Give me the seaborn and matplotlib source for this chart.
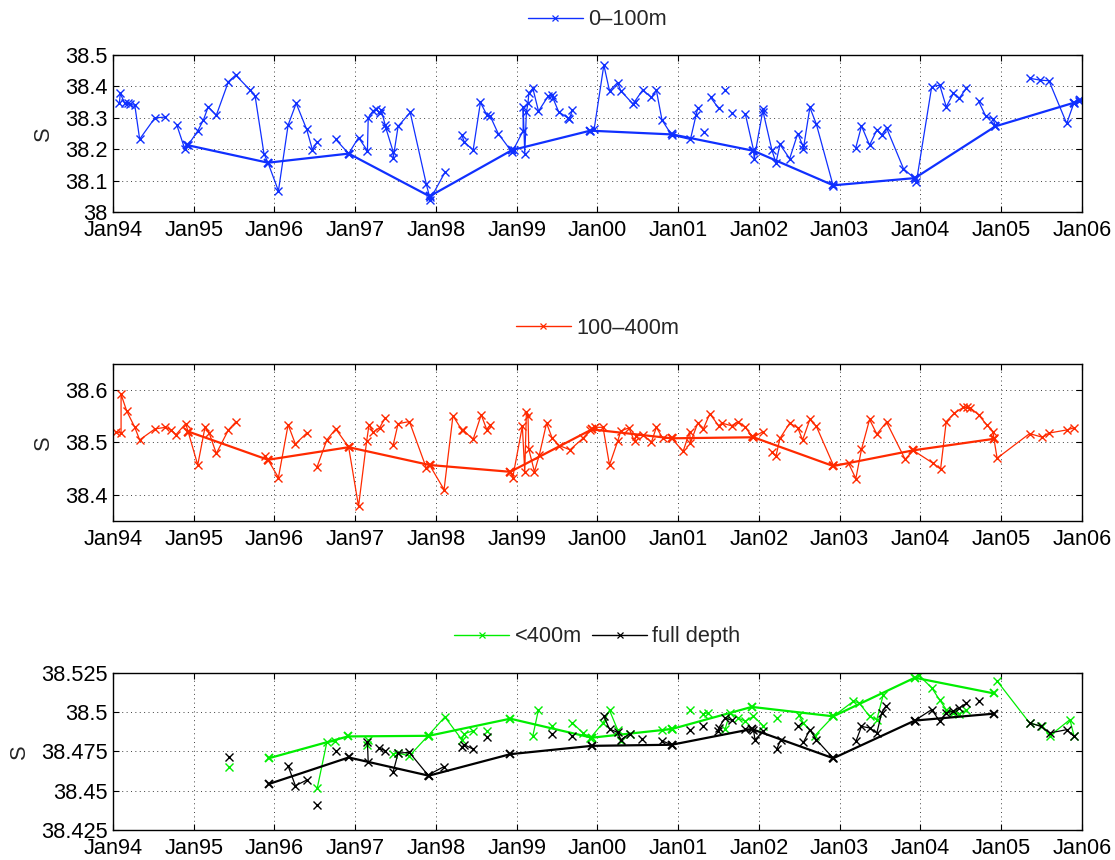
import numpy as np
import pandas as pd
import matplotlib
matplotlib.use("Agg")
import matplotlib.pyplot as plt
import matplotlib.dates as mdates
from matplotlib.lines import Line2D
from matplotlib.ticker import FuncFormatter, MultipleLocator
import seaborn as sns

nan = np.nan

# ---------------- data (decimal years, salinity) ----------------
blue_year = [1994.08, 1994.09, 1994.145, 1994.19, 1994.21, 1994.27, 1994.33, 1994.52, 1994.64, nan,
             1994.79, 1994.89, 1994.93, 1995.05, 1995.12, 1995.18, 1995.28, 1995.43, 1995.52, 1995.70,
             1995.76, 1995.87, 1995.92, 1996.05, 1996.17, 1996.27, 1996.40, 1996.47, 1996.53, nan,
             1996.76, 1996.92, 1997.04, 1997.15, 1997.16, 1997.22, 1997.26, 1997.30, 1997.32, 1997.37,
             1997.38, 1997.47, 1997.47, 1997.53, 1997.68, 1997.88, 1997.92, 1997.92, 1998.11, nan,
             1998.32, 1998.35, 1998.46, 1998.55, 1998.63, 1998.67, 1998.77, 1998.94, 1998.96, 1999.08,
             1999.08, 1999.10, 1999.12, 1999.14, 1999.15, 1999.20, 1999.27, 1999.39, 1999.44, 1999.45,
             1999.52, 1999.63, 1999.65, 1999.69, nan,
             1999.91, 1999.96, 2000.08, 2000.15, 2000.25, 2000.29, 2000.44, 2000.46, 2000.56, 2000.67,
             2000.73, 2000.80, 2000.92, 2001.15, 2001.22, 2001.24, nan, 2001.32, nan, 2001.40, 2001.50, nan,
             2001.58, nan, 2001.66, nan,
             2001.83, 2001.93, 2001.94, 2002.05, 2002.05, 2002.16, 2002.21, 2002.26, 2002.38, 2002.48,
             2002.54, 2002.55, 2002.63, 2002.71, 2002.92, nan,
             2003.20, 2003.27, 2003.37, 2003.46, 2003.52, 2003.58, 2003.79, 2003.93, 2003.95, 2004.14,
             2004.24, 2004.32, 2004.41, 2004.48, 2004.57, nan,
             2004.72, 2004.81, 2004.90, 2004.93, nan,
             2005.35, 2005.48, 2005.59, 2005.81, 2005.90, 2005.96]
blue_S = [38.348, 38.378, 38.346, 38.348, 38.343, 38.340, 38.232, 38.300, 38.302, nan,
          38.277, 38.200, 38.213, 38.258, 38.293, 38.335, 38.308, 38.415, 38.436, 38.388,
          38.370, 38.186, 38.157, 38.067, 38.277, 38.346, 38.263, 38.199, 38.223, nan,
          38.231, 38.186, 38.237, 38.195, 38.300, 38.322, 38.328, 38.314, 38.326, 38.277,
          38.266, 38.191, 38.173, 38.273, 38.317, 38.088, 38.048, 38.037, 38.126, nan,
          38.245, 38.223, 38.197, 38.349, 38.309, 38.306, 38.250, 38.191, 38.199, 38.259,
          38.335, 38.186, 38.319, 38.346, 38.378, 38.394, 38.321, 38.369, 38.372, 38.362,
          38.319, 38.300, 38.296, 38.324, nan,
          38.259, 38.265, 38.468, 38.386, 38.412, 38.386, 38.344, 38.351, 38.388, 38.365,
          38.388, 38.293, 38.245, 38.231, 38.309, 38.330, nan, 38.255, nan, 38.365, 38.330, nan,
          38.390, nan, 38.316, nan,
          38.312, 38.199, 38.170, 38.327, 38.320, 38.197, 38.157, 38.215, 38.170, 38.250,
          38.213, 38.202, 38.333, 38.280, 38.082, nan,
          38.205, 38.274, 38.213, 38.261, 38.245, 38.268, 38.138, 38.106, 38.096, 38.399,
          38.404, 38.335, 38.378, 38.362, 38.394, nan,
          38.353, 38.305, 38.296, 38.273, nan,
          38.426, 38.420, 38.418, 38.282, 38.348, 38.354]
blue_ann_year = [1994.92, 1995.92, 1996.92, 1997.92, 1998.94, 1999.91, 2000.93, 2001.93, 2002.92,
                 2003.93, 2004.93, 2005.90, 2005.98]
blue_ann_S = [38.213, 38.157, 38.186, 38.050, 38.197, 38.259, 38.247, 38.195, 38.085,
              38.108, 38.273, 38.348, 38.356]

red_year = [1994.04, 1994.10, 1994.10, 1994.17, 1994.27, 1994.33, 1994.52, 1994.65, 1994.72, 1994.78,
            1994.90, 1994.93, 1995.05, 1995.14, 1995.19, 1995.28, 1995.43, 1995.52, nan,
            1995.88, 1995.92, 1996.05, 1996.17, 1996.26, 1996.40, nan,
            1996.53, 1996.65, 1996.76, 1996.92, 1997.04, 1997.14, 1997.17, 1997.22, 1997.30, 1997.37, nan,
            1997.47, 1997.53, 1997.67, 1997.88, 1997.92, 1998.10, 1998.21, 1998.32, 1998.34, 1998.46,
            1998.56, 1998.63, 1998.67, nan,
            1998.92, 1998.95, 1999.07, 1999.10, 1999.12, 1999.14, 1999.15, 1999.22, 1999.28, 1999.37,
            1999.44, 1999.53, 1999.66, 1999.82, 1999.91, 1999.97, 2000.07, 2000.15, 2000.25, 2000.29,
            2000.39, 2000.46, 2000.48, 2000.56, 2000.67, 2000.73, 2000.81, 2000.92, 2001.06, 2001.14,
            2001.15, 2001.24, 2001.31, 2001.39, 2001.50, 2001.54, 2001.66, 2001.74, 2001.83, 2001.91,
            2001.93, 2002.05, nan,
            2002.16, 2002.21, 2002.26, 2002.38, 2002.48, 2002.54, 2002.63, 2002.71, 2002.92, 2003.11,
            2003.20, 2003.27, 2003.37, 2003.46, 2003.58, 2003.81, 2003.91, 2004.16, 2004.25, 2004.32,
            2004.42, 2004.53, 2004.58, 2004.62, 2004.72, 2004.82, 2004.90, 2004.91, 2004.95, 2005.35,
            2005.51, 2005.59, 2005.81, 2005.90]
red_S = [38.520, 38.518, 38.592, 38.560, 38.529, 38.505, 38.526, 38.529, 38.524, 38.515,
         38.536, 38.521, 38.457, 38.529, 38.519, 38.479, 38.524, 38.539, nan,
         38.474, 38.467, 38.433, 38.534, 38.497, 38.518, nan,
         38.454, 38.505, 38.526, 38.491, 38.378, 38.502, 38.534, 38.520, 38.528, 38.547, nan,
         38.496, 38.536, 38.540, 38.451, 38.457, 38.410, 38.551, 38.524, 38.523, 38.506,
         38.553, 38.524, 38.534, nan,
         38.444, 38.433, 38.531, 38.444, 38.558, 38.550, 38.487, 38.444, 38.476, 38.537,
         38.508, 38.494, 38.486, 38.508, 38.524, 38.529, 38.529, 38.457, 38.502, 38.522,
         38.528, 38.502, 38.512, 38.515, 38.501, 38.529, 38.508, 38.508, 38.483, 38.521,
         38.499, 38.537, 38.526, 38.555, 38.532, 38.537, 38.532, 38.540, 38.529, 38.512,
         38.510, 38.521, nan,
         38.481, 38.474, 38.508, 38.537, 38.528, 38.505, 38.544, 38.531, 38.457, 38.460,
         38.431, 38.487, 38.544, 38.516, 38.539, 38.468, 38.485, 38.460, 38.449, 38.540,
         38.556, 38.567, 38.567, 38.566, 38.553, 38.534, 38.521, 38.508, 38.470, 38.517,
         38.510, 38.518, 38.524, 38.528]
red_ann_year = [1994.93, 1995.92, 1996.92, 1997.92, 1998.92, 1999.93, 2000.92, 2001.93, 2002.92,
                2003.91, 2004.91]
red_ann_S = [38.521, 38.467, 38.491, 38.457, 38.444, 38.525, 38.508, 38.510, 38.455, 38.485, 38.507]

green_year = [1995.44, nan, 1996.53, 1996.65, 1996.75, nan, 1997.15, 1997.16, nan,
              1997.47, 1997.53, 1997.67, 1997.90, 1998.11, 1998.32, 1998.35, 1998.46, nan,
              1998.63, nan, 1999.20, 1999.27, nan, 1999.44, nan,
              1999.69, 1999.82, 1999.91, 2000.07, 2000.15, 2000.25, 2000.29, 2000.40, nan,
              2000.80, 2000.92, nan, 2001.14, nan, 2001.31, 2001.37, nan,
              2001.58, 2001.64, 2001.74, 2001.83, 2001.93, 2002.05, nan, 2002.22, nan,
              2002.49, 2002.55, 2002.69, 2002.92, 2003.17, 2003.24, 2003.37, 2003.46, 2003.54, nan,
              2003.98, 2004.14, 2004.24, 2004.32, 2004.41, 2004.48, 2004.57, nan,
              2004.95, 2005.35, 2005.51, 2005.60, 2005.85, 2005.90]
green_S = [38.465, nan, 38.4515, 38.481, 38.4814, nan, 38.4793, 38.4825, nan,
           38.4735, 38.474, 38.4722, 38.485, 38.497, 38.4825, 38.4863, 38.4882, nan,
           38.4878, nan, 38.485, 38.5017, nan, 38.491, nan,
           38.4932, 38.4868, 38.4835, 38.4932, 38.5013, 38.4889, 38.482, 38.4863, nan,
           38.4889, 38.4893, nan, 38.5017, nan, 38.4991, 38.4996, nan,
           38.4893, 38.4996, 38.4964, 38.4942, 38.4974, 38.4915, nan, 38.4964, nan,
           38.4985, 38.4932, 38.485, 38.4974, 38.507, 38.506, 38.4974, 38.4953, 38.5113, nan,
           38.5235, 38.5156, 38.5077, 38.5017, 38.4996, 38.4991, 38.5013, nan,
           38.5199, 38.4932, 38.491, 38.485, 38.4953, 38.485]
green_ann_year = [1995.93, 1996.91, 1997.91, 1998.92, 1999.93, 2000.92, 2001.91, 2002.92, 2003.93, 2004.91]
green_ann_S = [38.4707, 38.4846, 38.485, 38.4959, 38.4838, 38.4893, 38.5034, 38.4974, 38.522, 38.512]

black_year = [1995.44, nan, 1996.17, 1996.26, 1996.40, nan, 1996.53, nan, 1996.76, nan,
              1997.15, 1997.16, nan, 1997.29, 1997.37, nan,
              1997.47, 1997.53, 1997.67, 1997.90, 1998.10, nan, 1998.32, 1998.35, 1998.46, nan,
              1998.63, nan, 1999.44, nan, 1999.69, nan,
              2000.08, 2000.15, 2000.25, 2000.29, 2000.40, nan, 2000.55, nan, 2000.80, 2000.92, nan,
              2001.14, nan, 2001.31, nan, 2001.49, 2001.50, 2001.58, 2001.66, nan,
              2001.83, 2001.93, 2001.95, 2002.05, nan, 2002.22, 2002.27, nan, 2002.48, nan,
              2002.55, 2002.63, 2002.71, 2002.92, nan,
              2003.20, 2003.27, 2003.37, 2003.46, 2003.52, 2003.57, nan,
              2003.93, 2004.14, 2004.24, 2004.32, 2004.40, 2004.48, 2004.57, nan, 2004.72, nan,
              2005.35, 2005.49, 2005.60, 2005.81, 2005.90]
black_S = [38.4714, nan, 38.4658, 38.4532, 38.4568, nan, 38.4408, nan, 38.475, nan,
           38.4808, 38.468, nan, 38.4771, 38.4756, nan,
           38.4622, 38.474, 38.4744, 38.460, 38.4654, nan, 38.4778, 38.4793, 38.4765, nan,
           38.484, nan, 38.4863, nan, 38.485, nan,
           38.4974, 38.4893, 38.4872, 38.4825, 38.4863, nan, 38.4831, nan, 38.4818, 38.4793, nan,
           38.4889, nan, 38.491, nan, 38.4882, 38.490, 38.4964, 38.4949, nan,
           38.4893, 38.489, 38.4825, 38.4878, nan, 38.4765, 38.4825, nan, 38.4915, nan,
           38.4808, 38.4889, 38.4825, 38.4707, nan,
           38.4814, 38.491, 38.490, 38.4868, 38.4996, 38.5038, nan,
           38.4947, 38.5017, 38.4942, 38.4996, 38.5006, 38.5028, 38.5056, nan, 38.507, nan,
           38.4932, 38.491, 38.4868, 38.4889, 38.4846]
black_ann_year = [1995.93, 1996.92, 1997.91, 1998.92, 1999.93, 2000.92, 2001.91, 2002.92, 2003.93, 2004.91]
black_ann_S = [38.4543, 38.4712, 38.4596, 38.4733, 38.4786, 38.4793, 38.4893, 38.4707, 38.4947, 38.4991]

legend_labels = [["0\u2013100m"], ["100\u2013400m"], ["<400m", "full depth"]]
ylims = [(38.0, 38.5), (38.35, 38.65), (38.425, 38.525)]
ysteps = [0.1, 0.1, 0.025]

BLUE = "#1030ff"
RED = "#ff2a00"
GREEN = "#00ee00"
BLACK = "#000000"


def to_dates(years):
    out = []
    for y in years:
        if np.isnan(y):
            out.append(pd.NaT)
        else:
            yi = int(y)
            out.append(pd.Timestamp(yi, 1, 1) + pd.Timedelta(days=(y - yi) * 365.25))
    return out


def make_df(years, vals):
    seg = np.cumsum(np.isnan(np.array(years, dtype=float)))
    df = pd.DataFrame({"date": to_dates(years), "S": vals, "seg": seg})
    return df.dropna()


FS = 15.7
sns.set_style("ticks")
plt.rcParams["font.family"] = ["Liberation Sans", "DejaVu Sans"]
plt.rcParams["font.size"] = FS

fig = plt.figure(figsize=(11.15, 8.6), dpi=100)
left, width, height = 113 / 1115, 969 / 1115, 157 / 860
bottoms = [1 - 212 / 860, 1 - 521 / 860, 1 - 830 / 860]
axes = [fig.add_axes([left, b, width, height]) for b in bottoms]


def draw(ax, years, vals, ann_years, ann_vals, color):
    thin = make_df(years, vals)
    sns.lineplot(data=thin, x="date", y="S", units="seg", estimator=None, sort=False,
                 color=color, linewidth=0.9, marker="x", markersize=6,
                 markeredgecolor=color, markeredgewidth=1.0, ax=ax, legend=False)
    ann = make_df(ann_years, ann_vals)
    sns.lineplot(data=ann, x="date", y="S", estimator=None, sort=False,
                 color=color, linewidth=1.6, marker="x", markersize=6,
                 markeredgecolor=color, markeredgewidth=1.4, ax=ax, legend=False)


draw(axes[0], blue_year, blue_S, blue_ann_year, blue_ann_S, BLUE)
draw(axes[1], red_year, red_S, red_ann_year, red_ann_S, RED)
draw(axes[2], green_year, green_S, green_ann_year, green_ann_S, GREEN)
draw(axes[2], black_year, black_S, black_ann_year, black_ann_S, BLACK)

legend_colors = [[BLUE], [RED], [GREEN, BLACK]]
legend_y = [1.223, 1.229, 1.23]

for i, ax in enumerate(axes):
    ax.set_xlim(pd.Timestamp(1994, 1, 1), pd.Timestamp(2006, 1, 1))
    ax.set_ylim(*ylims[i])
    ax.yaxis.set_major_locator(MultipleLocator(ysteps[i]))
    ax.yaxis.set_major_formatter(FuncFormatter(lambda v, p: "%g" % round(v, 4)))
    ax.xaxis.set_major_locator(mdates.YearLocator())
    ax.xaxis.set_major_formatter(mdates.DateFormatter("%b%y"))
    ax.set_xlabel("")
    ax.set_ylabel("S", labelpad=8)
    ax.tick_params(direction="in", length=4, width=0.8, top=True, right=True,
                   labelsize=FS, pad=4, colors="black")
    ax.tick_params(axis="x", pad=6)
    ax.grid(True, linestyle=(0, (1, 3.5)), color="0.25", linewidth=0.7)
    for sp in ax.spines.values():
        sp.set_visible(True)
        sp.set_color("black")
        sp.set_linewidth(1.0)
    handles = [Line2D([], [], color=c, linewidth=1.0, marker="x", markersize=4,
                      markeredgewidth=0.9) for c in legend_colors[i]]
    ax.legend(handles, legend_labels[i], loc="center", bbox_to_anchor=(0.5, legend_y[i]),
              ncol=len(handles), frameon=False, fontsize=FS, handlelength=2.5,
              handletextpad=0.25, columnspacing=0.5, numpoints=1, borderaxespad=0)

fig.savefig("out.png", dpi=100)
